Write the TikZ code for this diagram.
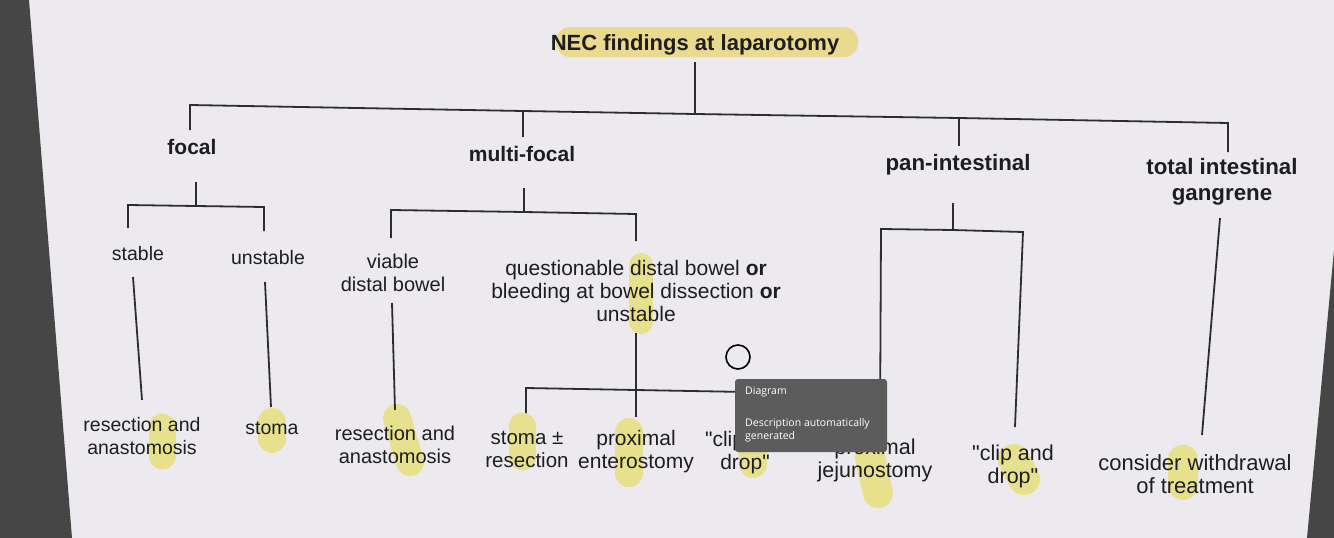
\documentclass[tikz,border=0pt]{standalone}
\usepackage{fontspec}
\setmainfont{Liberation Sans}[Ligatures=TeXOff]
\newfontfamily\tipfont{Open Sans}
\definecolor{bg}{RGB}{236,234,238}
\definecolor{scr}{RGB}{70,70,70}
\definecolor{ln}{RGB}{45,45,45}
\definecolor{hl}{RGB}{230,222,100}
\definecolor{titlehl}{RGB}{234,214,120}
\definecolor{tip}{RGB}{92,92,92}
\definecolor{txt}{RGB}{30,30,30}
\tikzset{
  fs/.store in=\fsz, fs=19.5,
  lab/.style={font=\fontsize{\fsz}{23}\selectfont, text=txt, align=center, inner sep=0pt},
  head/.style={font=\fontsize{\fsz}{26}\selectfont\bfseries, text=txt, align=center, inner sep=0pt},
  link/.style={draw=ln, line width=1.8pt},
  pill/.style={draw=hl, draw opacity=0.7, line cap=round},
  tiptext/.style={font=\tipfont\fontsize{10.5}{12.5}\selectfont, text=white, align=left, inner sep=0pt, anchor=west}
}
\begin{document}
\begin{tikzpicture}[x=1pt,y=-1pt]
\useasboundingbox (0,0) rectangle (1334,538);
% screen background
\fill[bg] (0,0) rectangle (1334,538);
\fill[scr] (0,0) -- (29,0) -- (72,538) -- (0,538) -- cycle;
\fill[scr] (1334,250) -- (1334,538) -- (1307,538) -- cycle;
% highlights
\fill[titlehl, fill opacity=0.8, rounded corners=14pt] (556,27) rectangle (858,57);
\draw[pill, line width=24pt] (641,265) -- (641,322);
\draw[pill, line width=27pt] (162,427) -- (162,456);
\draw[pill, line width=28pt] (272,422) -- (272,439);
\draw[pill, line width=28pt] (397,418) -- (410,462);
\draw[pill, line width=27pt] (522,426) -- (522,457);
\draw[pill, line width=28pt] (629,432) -- (629,473);
\draw[pill, line width=28pt] (753,445) -- (753,464);
\draw[pill, line width=30pt] (870,458) -- (878,493);
\draw[pill, line width=32pt] (1014,460) -- (1024,479);
\draw[pill, line width=30pt] (1183,460) -- (1183,485);
% nodes
\node[fs=22, head] (title) at (695,45) {NEC findings at laparotomy};
\node[fs=21, head] (focal) at (192,147) {focal};
\node[fs=21, head] (multi) at (522,154) {multi-focal};
\node[fs=22.3, head] (pan) at (958,165) {pan-intestinal};
\node[fs=22.3, head] (total) at (1222,182) {total intestinal\\gangrene};
\node[fs=19.5, lab] (stable) at (138,254) {stable};
\node[fs=19.5, lab] (unstable) at (268,258) {unstable};
\node[fs=20, lab] (viable) at (393,273) {viable\\distal bowel};
\node[fs=21, lab] (quest) at (636,291) {questionable distal bowel \textbf{or}\\bleeding at bowel dissection \textbf{or}\\unstable};
\node[fs=19.5, lab] (resA) at (142,436) {resection and\\anastomosis};
\node[fs=19.5, lab] (stomaA) at (272,428) {stoma};
\node[fs=20, lab] (resB) at (395,445) {resection and\\anastomosis};
\node[fs=20.5, lab] (stomaB) at (527,449) {stoma ±\\resection};
\node[fs=21, lab] (prox) at (636,452) {proximal\\enterostomy};
\node[fs=21, lab] (clipA) at (745,453) {"clip and\\drop"};
\node[fs=21.5, lab] (jej) at (875,460) {proximal\\jejunostomy};
\node[fs=21.5, lab] (clipB) at (1013,466) {"clip and\\drop"};
\node[fs=22, lab] (withdraw) at (1195,474) {consider withdrawal\\of treatment};
% junction coordinates
\coordinate (t0) at (695,62);
\coordinate (b0) at (695,114);
\coordinate (bF) at (190,105);
\coordinate (bM) at (523,111);
\coordinate (bP) at (959,118);
\coordinate (bT) at (1228,123);
\coordinate (sF) at (190,130);
\coordinate (sM) at (523,137);
\coordinate (sP) at (959,146);
\coordinate (sT) at (1228,152);
% level 1
\draw[link] (t0) -- (b0);
\draw[link] (sF) -- (bF) -- (bM) -- (b0) -- (bP) -- (bT) -- (sT);
\draw[link] (bM) -- (sM);
\draw[link] (bP) -- (sP);
% focal
\coordinate (f1) at (196,182);
\coordinate (f2) at (196,206);
\coordinate (fL) at (128,205);
\coordinate (fR) at (264,207);
\draw[link] (f1) -- (f2);
\draw[link] (128,228) -- (fL) -- (f2) -- (fR) -- (264,231);
\draw[link] (133,277) -- (142,400);
\draw[link] (265,282) -- (271,407);
% multi-focal
\coordinate (m1) at (524,188);
\coordinate (m2) at (524,212);
\coordinate (mL) at (391,210);
\coordinate (mR) at (636,214);
\draw[link] (m1) -- (m2);
\draw[link] (391,238) -- (mL) -- (m2) -- (mR) -- (636,241);
\draw[link] (392,303) -- (395,410);
\coordinate (q1) at (636,333);
\coordinate (q2) at (636,390);
\draw[link] (q1) -- (636,417);
\draw[link] (526,413) -- (526,388) -- (q2) -- (746,392) -- (746,418);
% pan-intestinal
\coordinate (p1) at (953,203);
\coordinate (p2) at (953,230);
\draw[link] (p1) -- (p2);
\draw[link] (880,432) -- (881,229) -- (p2) -- (1023,232) -- (1015,427);
% total
\draw[link] (1220,218) -- (1202,435);
% cursor circle
\draw[black, line width=1.6pt] (738,357) circle[radius=12];
% tooltip
\fill[tip, rounded corners=3pt] (735,379) rectangle (887,452);
\node[tiptext] (tipA) at (745,392) {Diagram};
\node[tiptext] (tipB) at (745,424) {Description automatically};
\node[tiptext] (tipC) at (745,437) {generated};
\end{tikzpicture}
\end{document}
